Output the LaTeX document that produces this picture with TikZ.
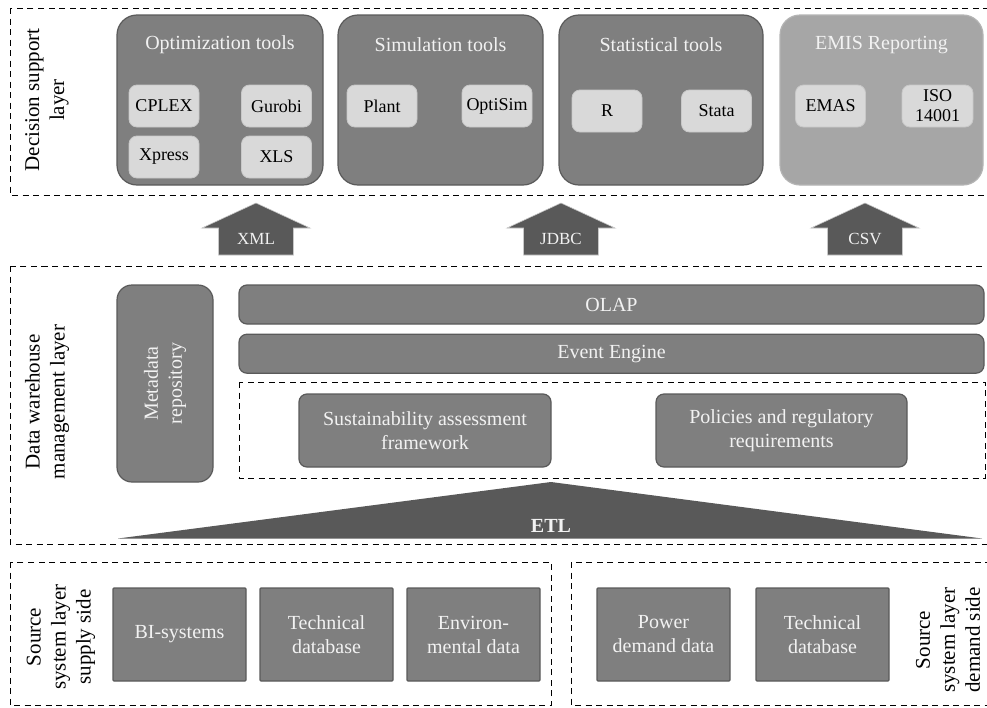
\documentclass[tikz,border=0pt]{standalone}
\usepackage{fontspec}
\setmainfont{Liberation Serif}
\usetikzlibrary{positioning}

\definecolor{boxgray}{HTML}{7F7F7F}
\definecolor{boxedge}{HTML}{5A5A5A}
\definecolor{itemgray}{HTML}{D9D9D9}
\definecolor{itemedge}{HTML}{C8C8C8}
\definecolor{emisgray}{HTML}{A6A6A6}
\definecolor{emisedge}{HTML}{B4B4B4}
\definecolor{darkfill}{HTML}{595959}
\definecolor{lighttext}{HTML}{F2F2F2}

\tikzset{
    layer/.style={draw=black, line width=1pt, dash pattern=on 6pt off 4.5pt},
    group/.style={draw=boxedge, fill=boxgray, line width=1.2pt, rounded corners=20pt, inner sep=0pt},
    grouptitle/.style={text=lighttext, font=\fontsize{20}{23}\selectfont},
    item/.style={draw=itemedge, fill=itemgray, line width=0.8pt, rounded corners=8pt,
        minimum width=70, minimum height=42, inner sep=0pt, align=center,
        font=\fontsize{18}{20}\selectfont},
    bar/.style={draw=boxedge, fill=boxgray, line width=1.2pt, rounded corners=8pt, inner sep=0pt,
        text=lighttext, align=center, font=\fontsize{20}{24}\selectfont},
    source/.style={draw=boxedge, fill=boxgray, line width=1.2pt, rounded corners=1pt, inner sep=0pt,
        minimum width=133, minimum height=93, text=lighttext, align=center,
        font=\fontsize{20}{24}\selectfont},
    layertext/.style={rotate=90, align=center, font=\fontsize{21}{25}\selectfont},
    flow/.style={fill=darkfill, draw=itemedge, line width=0.6pt},
    flowtext/.style={text=lighttext, font=\fontsize{17}{19}\selectfont}
}

\begin{document}
\begin{tikzpicture}[x=1pt,y=-1pt]
    \useasboundingbox (0,0) rectangle (987,707);

    % decision support layer
    \draw[layer] (10,8) rectangle (995,195);
    \node[layertext] (dsl) at (47,100) {Decision support\\layer};

    \node[group, minimum width=206, minimum height=170] (opt) at (220,100) {};
    \node[grouptitle] at (220,45) {Optimization tools};
    \node[item] (cplex) at (164,106) {CPLEX};
    \node[item] (gurobi) at (276.5,106) {Gurobi};
    \node[item] (xpress) at (164,157) {Xpress};
    \node[item] (xls) at (276.5,157) {XLS};

    \node[group, minimum width=205, minimum height=170] (sim) at (440.5,100) {};
    \node[grouptitle] at (440.5,45) {Simulation tools};
    \node[item] (plant) at (382,106) {Plant};
    \node[item] (optisim) at (497,106) {OptiSim};

    \node[group, minimum width=204, minimum height=170] (stat) at (661,100) {};
    \node[grouptitle] at (661,45) {Statistical tools};
    \node[item] (r) at (607,111) {R};
    \node[item] (stata) at (716.5,111) {Stata};

    \node[group, draw=emisedge, fill=emisgray, minimum width=203, minimum height=170] (emis) at (881.5,100) {};
    \node[grouptitle] at (881.5,45) {EMIS Reporting};
    \node[item] (emas) at (830.5,106) {EMAS};
    \node[item, minimum width=71] (iso) at (937.5,106) {ISO\\14001};

    % interfaces
    \foreach \x/\t in {256/XML, 561/JDBC, 865/CSV} {
        \draw[flow] (\x,203) -- (\x+54,228) -- (\x+37.5,228) -- (\x+37.5,255)
            -- (\x-37.5,255) -- (\x-37.5,228) -- (\x-54,228) -- cycle;
        \node[flowtext] (if-\t) at (\x,239) {\t};
    }

    % data warehouse management layer
    \draw[layer] (10,266) rectangle (995,544);
    \node[layertext] (dwl) at (47,402) {Data warehouse\\management layer};

    \node[bar, rotate=90, rounded corners=15pt, minimum width=197, minimum height=96] (meta) at (165,383.5) {Metadata\\repository};
    \node[bar, minimum width=745, minimum height=39] (olap) at (611.5,304.5) {OLAP};
    \node[bar, minimum width=745, minimum height=39, below=9pt of olap] (event) {Event Engine};

    \draw[layer] (239,382) rectangle (985,478);
    \node[bar, minimum width=252, minimum height=73] (sust) at (425,430.5) {Sustainability assessment\\framework};
    \node[bar, minimum width=251, minimum height=73] (policy) at (781.5,430.5) {Policies and regulatory\\requirements};

    \fill[darkfill] (118,538.5) -- (551,482) -- (982,538.5) -- cycle;
    \node[text=lighttext, font=\bfseries\fontsize{20}{24}\selectfont] (etl) at (551,526) {ETL};

    % source system layer
    \draw[layer] (10,562) rectangle (551,705);
    \node[layertext] (supply) at (61,637) {Source\\system layer\\supply side};
    \node[source] (bi) at (179.5,634.5) {BI-systems};
    \node[source] (techA) at (326.5,634.5) {Technical\\database};
    \node[source] (env) at (473.5,634.5) {Environ-\\mental data};

    \draw[layer] (571,562) rectangle (995,705);
    \node[layertext] (demand) at (948,640) {Source\\system layer\\demand side};
    \node[source] (power) at (663.5,634.5) {Power\\demand data};
    \node[source] (techB) at (822.5,634.5) {Technical\\database};
\end{tikzpicture}
\end{document}
